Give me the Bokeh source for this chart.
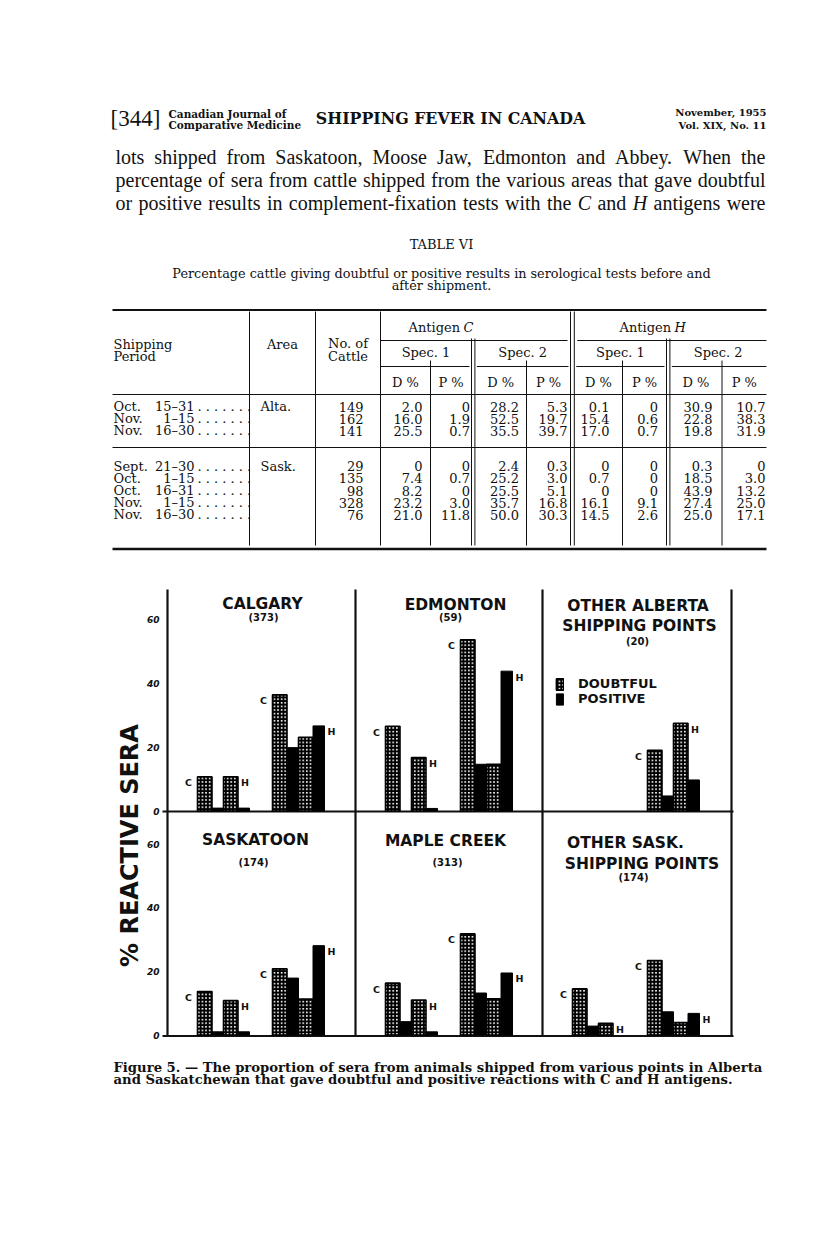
import math
from bokeh.plotting import figure
from bokeh.models import Range1d, ColumnDataSource, Legend, LegendItem
from bokeh.core.properties import value
from bokeh.embed import file_html
from bokeh.resources import INLINE

# ======================= DATA =======================
# --- Table VI ---
table_months = ["Oct.", "Nov.", "Nov.", "Sept.", "Oct.", "Oct.", "Nov.", "Nov."]
table_days = ["15\u201331", "1\u201315", "16\u201330", "21\u201330", "1\u201315", "16\u201331", "1\u201315", "16\u201330"]
table_areas = ["Alta.", "", "", "Sask.", "", "", "", ""]
table_cattle = ["149", "162", "141", "29", "135", "98", "328", "76"]
c_spec1_d = ["2.0", "16.0", "25.5", "0", "7.4", "8.2", "23.2", "21.0"]
c_spec1_p = ["0", "1.9", "0.7", "0", "0.7", "0", "3.0", "11.8"]
c_spec2_d = ["28.2", "52.5", "35.5", "2.4", "25.2", "25.5", "35.7", "50.0"]
c_spec2_p = ["5.3", "19.7", "39.7", "0.3", "3.0", "5.1", "16.8", "30.3"]
h_spec1_d = ["0.1", "15.4", "17.0", "0", "0.7", "0", "16.1", "14.5"]
h_spec1_p = ["0", "0.6", "0.7", "0", "0", "0", "9.1", "2.6"]
h_spec2_d = ["30.9", "22.8", "19.8", "0.3", "18.5", "43.9", "27.4", "25.0"]
h_spec2_p = ["10.7", "38.3", "31.9", "0", "3.0", "13.2", "25.0", "17.1"]

# --- Figure 5 (percent reactive sera) ---
# order: Spec1 C doubtful, C positive, H doubtful, H positive, Spec2 C doubtful, C positive, H doubtful, H positive
calgary = [10.7, 0.9, 10.7, 0.9, 36.3, 19.8, 23.0, 26.6]
edmonton = [26.5, 0.0, 16.7, 0.8, 53.5, 14.6, 14.6, 43.7]
other_alberta = [0.0, 0.0, 0.0, 0.0, 19.0, 4.7, 27.4, 9.7]
saskatoon = [13.7, 1.0, 10.8, 1.0, 20.8, 17.9, 11.3, 28.1]
maple_creek = [16.3, 4.2, 11.0, 1.0, 31.8, 13.2, 11.4, 19.5]
other_sask = [14.5, 2.8, 3.7, 0.0, 23.4, 7.3, 3.9, 6.8]
panel_values = [calgary, edmonton, other_alberta, saskatoon, maple_creek, other_sask]
panel_titles = [["CALGARY"], ["EDMONTON"], ["OTHER ALBERTA", "SHIPPING POINTS"],
                ["SASKATOON"], ["MAPLE CREEK"], ["OTHER SASK.", "SHIPPING POINTS"]]
panel_counts = ["(373)", "(59)", "(20)", "(174)", "(313)", "(174)"]
y_ticks = [0, 20, 40, 60]
legend_labels = ["DOUBTFUL", "POSITIVE"]
y_axis_label = "% REACTIVE SERA"

# ======================= PAGE =======================
W, H = 800, 1243
SERIF = "Liberation Serif"
DSERIF = "DejaVu Serif"
SANS = "DejaVu Sans"
INK = "#111111"

p = figure(width=W, height=H, x_range=Range1d(0, W), y_range=Range1d(H, 0),
           x_axis_type=None, y_axis_type=None, toolbar_location=None,
           output_backend="svg", min_border=0, title_location=None)
p.outline_line_color = None
p.background_fill_color = "white"
p.border_fill_color = "white"

groups = {}


def T(x, y, s, size, font=DSERIF, style="normal", align="left", baseline="middle", angle=0.0):
    key = (size, font, style, align, baseline, angle)
    g = groups.setdefault(key, dict(x=[], y=[], text=[]))
    g["x"].append(x)
    g["y"].append(y)
    g["text"].append(s)


def flush_text():
    for (size, font, style, align, baseline, angle), g in groups.items():
        p.text(x="x", y="y", text="text", source=ColumnDataSource(g),
               text_font=value(font), text_font_size=f"{size}px", text_font_style=style,
               text_align=align, text_baseline=baseline, angle=angle, text_color=INK)


TIMES = dict(zip("abcdefghijklmnopqrstuvwxyz",
                 [444, 500, 444, 500, 444, 333, 500, 500, 278, 278, 500, 278, 778, 500, 500, 500, 500, 333, 389, 278,
                  500, 500, 722, 500, 500, 444]))
TIMES.update(dict(zip("ABCDEFGHIJKLMNOPQRSTUVWXYZ",
                      [722, 667, 667, 722, 611, 556, 722, 722, 333, 389, 722, 611, 889, 722, 722, 556, 722, 667, 556,
                       611, 722, 722, 944, 722, 722, 611])))
TIMES.update({" ": 250, ".": 250, ",": 250, "-": 333})


def tw(s, size):
    return sum(TIMES.get(ch, 500) for ch in s) / 1000.0 * size


def justify(line, x0, x1, y, size, italic_words=()):
    words = line.split(" ")
    widths = [tw(w, size) for w in words]
    gap = (x1 - x0 - sum(widths)) / (len(words) - 1)
    x = x0
    for w, wd in zip(words, widths):
        T(x, y, w, size, font=SERIF, style="italic" if w in italic_words else "normal")
        x += wd + gap


def hline(x0, x1, y, w=1.0):
    p.segment(x0=[x0], y0=[y], x1=[x1], y1=[y], line_color=INK, line_width=w)


def vline(x, y0, y1, w=1.0):
    p.segment(x0=[x], y0=[y0], x1=[x], y1=[y1], line_color=INK, line_width=w)


# ---- running head ----
T(110, 118, "[344]", 23, font=SERIF)
T(168, 113, "Canadian Journal of", 10.5, font=DSERIF, style="bold")
T(168, 124, "Comparative Medicine", 10.5, font=DSERIF, style="bold")
T(450, 118, "SHIPPING FEVER IN CANADA", 15.8, font=DSERIF, style="bold", align="center")
T(766, 112, "November, 1955", 10, font=DSERIF, style="bold", align="right")
T(766, 125, "Vol. XIX, No. 11", 10, font=DSERIF, style="bold", align="right")

# ---- paragraph ----
para = ["lots shipped from Saskatoon, Moose Jaw, Edmonton and Abbey. When the",
        "percentage of sera from cattle shipped from the various areas that gave doubtful",
        "or positive results in complement-fixation tests with the C and H antigens were"]
for i, line in enumerate(para):
    justify(line, 115, 765, 156 + 23 * i, 20, italic_words=("C", "H") if i == 2 else ())

# ---- table title ----
T(441, 244, "TABLE VI", 13, font=DSERIF, align="center")
T(441, 273, "Percentage cattle giving doubtful or positive results in serological tests before and",
  12.8, font=DSERIF, align="center")
T(441, 285, "after shipment.", 12.8, font=DSERIF, align="center")

# ---- table geometry ----
V1, V2, V3 = 249.0, 315.0, 380.0
C1DP, C12A, C12B, C2DP = 430.0, 471.0, 474.4, 526.0
CHA, CHB = 570.0, 573.8
H1DP, H12A, H12B, H2DP = 622.0, 666.0, 669.4, 721.5
TL, TR = 112, 766

hline(TL, TR, 309.5, 2.2)
hline(V3, CHA - 3, 340)
hline(CHB + 3, TR, 340)
for a, b in [(V3, C12A - 2), (C12B + 2, CHA - 2), (CHB + 2, H12A - 2), (H12B + 2, TR)]:
    hline(a, b, 366)
hline(TL, TR, 394)
hline(TL, TR, 447)
hline(TL, TR, 548.5, 2.6)
for x, y0 in [(V1, 311), (V2, 311), (V3, 311), (CHA, 311), (CHB, 311),
              (C12A, 338), (C12B, 338), (H12A, 338), (H12B, 338),
              (C1DP, 360), (C2DP, 360), (H1DP, 360), (H2DP, 360)]:
    vline(x, y0, 545)

# ---- table header ----
TS = 13
T(113, 344, "Shipping", TS)
T(113, 356, "Period", TS)
T((V1 + V2) / 2, 344, "Area", TS, align="center")
T((V2 + V3) / 2, 343, "No. of", TS, align="center")
T((V2 + V3) / 2, 356, "Cattle", TS, align="center")
for cx, letter in [(441, "C"), (652, "H")]:
    T(cx - 33, 327, "Antigen", TS)
    T(cx + 22, 327, letter, TS, style="italic")
for a, b, lab in [(V3, C12A, "Spec. 1"), (C12B, CHA, "Spec. 2"), (CHB, H12A, "Spec. 1"), (H12B, TR, "Spec. 2")]:
    T((a + b) / 2, 352, lab, TS, align="center")
sub_edges = [(V3, C1DP), (C1DP, C12A), (C12B, C2DP), (C2DP, CHA), (CHB, H1DP), (H1DP, H12A), (H12B, H2DP),
             (H2DP, TR)]
for i, (a, b) in enumerate(sub_edges):
    T((a + b) / 2, 382, "D %" if i % 2 == 0 else "P %", TS, align="center")

# ---- table body ----
row_y = [406, 418, 430, 465.5, 477.5, 490, 502, 514]
value_cols = [(V3 - 17, table_cattle), (C1DP - 8, c_spec1_d), (C12A - 1.5, c_spec1_p), (C2DP - 7.5, c_spec2_d),
              (CHA - 3, c_spec2_p), (H1DP - 13, h_spec1_d), (H12A - 8.5, h_spec1_p), (H2DP - 9.5, h_spec2_d),
              (TR - 1, h_spec2_p)]
for r, y in enumerate(row_y):
    T(113, y, table_months[r], TS)
    T(194, y, table_days[r], TS, align="right")
    T(197, y, ". . . . . . .", TS)
    if table_areas[r]:
        T(260, y, table_areas[r], TS)
    for xr, col in value_cols:
        T(xr, y, col[r], TS, align="right")

# ======================= FIGURE 5 =======================
col_left = [167, 355, 542]
row_zero = [810.5, 1034.5]
row_scale = [3.2, 3.18]
p.extra_x_ranges = {f"col{c}": Range1d(-L, W - L) for c, L in enumerate(col_left)}
p.extra_y_ranges = {f"row{r}": Range1d((z - H) / s, z / s)
                    for r, (z, s) in enumerate(zip(row_zero, row_scale))}

# panel frame lines
for x in [167, 355, 542, 731]:
    vline(x, 589, 1036, 2.2)
hline(162, 733, 811, 2.2)
hline(162, 733, 1035.5, 2.2)

D_LEFT = [30, 56, 105, 131]
P_LEFT = [44.5, 70.5, 119.5, 145.5]
D_W, P_W = 14.5, 11.5


def bar_source(lefts, width, vals, idx):
    xs = [l + width / 2 for l, i in zip(lefts, idx) if vals[i] > 0]
    tops = [vals[i] for i in idx if vals[i] > 0]
    return ColumnDataSource(dict(x=xs, top=tops))


legend_renderers = []
for k, vals in enumerate(panel_values):
    r, c = divmod(k, 3)
    xr, yr = f"col{c}", f"row{r}"
    dsrc = bar_source(D_LEFT, D_W, vals, (0, 2, 4, 6))
    psrc = bar_source(P_LEFT, P_W, vals, (1, 3, 5, 7))
    rd = p.vbar(x="x", top="top", bottom=0, width=D_W, source=dsrc, x_range_name=xr, y_range_name=yr,
                fill_color="white", hatch_pattern="+", hatch_color="black", hatch_weight=2.3, hatch_scale=3.6,
                line_color="black", line_width=1.6)
    rp = p.vbar(x="x", top="top", bottom=0, width=P_W, source=psrc, x_range_name=xr, y_range_name=yr,
                fill_color="black", line_color="black", line_width=1)
    if k == 0:
        legend_renderers = [rd, rp]

    # C / H labels beside bars
    lx, ly, lt = [], [], []
    for s, (ci, hi) in enumerate([(0, 2), (4, 6)]):
        if vals[ci] > 0:
            lx.append(D_LEFT[2 * s] - 9)
            ly.append(vals[ci])
            lt.append("C")
        hd, hp = vals[hi], vals[hi + 1]
        if max(hd, hp) > 0:
            right = D_LEFT[2 * s + 1] + D_W if hd >= hp else P_LEFT[2 * s + 1] + P_W
            lx.append(right + 7)
            ly.append(max(hd, hp))
            lt.append("H")
    p.text(x=lx, y=ly, text=lt, x_range_name=xr, y_range_name=yr, y_offset=6,
           text_font=value(SANS), text_font_style="bold", text_font_size="9.5px",
           text_align="center", text_baseline="middle", text_color=INK)

# y tick labels
for r in range(2):
    p.text(x=[-8] * len(y_ticks), y=y_ticks, text=[str(t) for t in y_ticks],
           x_range_name="col0", y_range_name=f"row{r}",
           text_font=value(SANS), text_font_style="bold italic", text_font_size="9px",
           text_align="right", text_baseline="middle", text_color=INK)

# y axis title
T(129, 845, y_axis_label, 24, font=SANS, style="bold", align="center", angle=math.pi / 2)

# panel titles and counts
title_pos = [[(262, 603)], [(455, 604)], [(637.5, 605), (639, 625)],
             [(255, 839)], [(445, 840)], [(625, 842), (641.5, 863)]]
count_pos = [(263, 617), (450, 617), (637, 641), (253, 862), (447, 862), (633, 877)]
for k in range(6):
    for (x, y), t in zip(title_pos[k], panel_titles[k]):
        T(x, y, t, 15.5, font=SANS, style="bold", align="center", baseline="alphabetic")
    T(count_pos[k][0], count_pos[k][1], panel_counts[k], 10, font=SANS, style="bold", align="center")

legend = Legend(items=[LegendItem(label=legend_labels[0], renderers=[legend_renderers[0]]),
                       LegendItem(label=legend_labels[1], renderers=[legend_renderers[1]])],
                location=(555, 537), orientation="vertical", padding=0, margin=0, spacing=0,
                glyph_width=9, glyph_height=14, label_standoff=14, label_height=14,
                label_text_font=SANS, label_text_font_style="bold", label_text_font_size="13px",
                label_text_color=INK, border_line_color=None, background_fill_alpha=0)
p.add_layout(legend)

# ---- figure caption ----
T(113, 1067, "Figure 5. \u2014 The proportion of sera from animals shipped from various points in Alberta",
  13.2, font=DSERIF, style="bold")
T(113, 1079, "and Saskatchewan that gave doubtful and positive reactions with C and H antigens.",
  13.2, font=DSERIF, style="bold")

flush_text()

open("out.html", "w").write(file_html(p, INLINE))
